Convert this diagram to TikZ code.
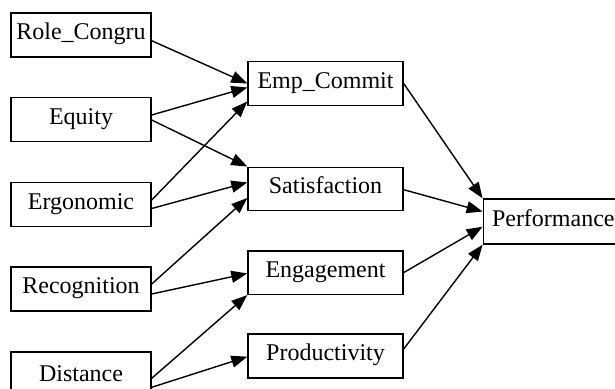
\documentclass[tikz,border=0pt]{standalone}
\usepackage{fontspec}
\setmainfont{Liberation Serif}
\usetikzlibrary{arrows.meta,calc}
\begin{document}
\begin{tikzpicture}[x=1pt,y=-1pt,
  box/.style={draw, line width=1.4pt, minimum height=44pt, inner sep=0pt,
    text height=15pt, text depth=6pt, font=\fontsize{24}{28}\selectfont},
  lbox/.style={box, minimum width=140pt},
  mbox/.style={box, minimum width=155pt},
  arr/.style={line width=1.4pt, -{Triangle[length=16pt,width=12pt]}}]
\useasboundingbox (0,0) rectangle (615,388);
\clip (0,0) rectangle (615,388);
% left column
\node[lbox] (rc) at (81,35) {Role\_Congru};
\node[lbox] (eq) at (81,119.7) {Equity};
\node[lbox] (er) at (81,204.5) {Ergonomic};
\node[lbox] (re) at (81,289) {Recognition};
\node[lbox, minimum height=49pt] (di) at (81,376.5) {Distance};
% middle column
\node[mbox, minimum height=43.5pt] (ec) at (325.5,83.5) {Emp\_Commit};
\node[mbox, minimum height=43pt] (sa) at (325.5,188.7) {Satisfaction};
\node[mbox, minimum height=43.5pt] (en) at (325.5,272.6) {Engagement};
\node[mbox, minimum height=44pt] (pr) at (325.5,356) {Productivity};
% right
\node[box, minimum width=140pt, minimum height=45pt] (pf) at (553.3,221.5) {Performance};
% edges
\draw[arr] ($(rc.east)+(0,5.7)$) -- ($(ec.west)+(0,0)$);
\draw[arr] ($(eq.east)+(0,-4.7)$) -- ($(ec.west)+(0,4)$);
\draw[arr] ($(eq.east)+(0,0.3)$) -- (sa.north west);
\draw[arr] ($(er.east)+(0,-4.5)$) -- ($(ec.west)+(0,18)$);
\draw[arr] ($(er.east)+(0,4)$) -- ($(sa.west)+(0,-6.3)$);
\draw[arr] ($(re.east)+(0,-5)$) -- ($(sa.west)+(0,9.3)$);
\draw[arr] ($(re.east)+(0,5)$) -- ($(en.west)+(0,0.8)$);
\draw[arr] ($(di.east)+(0,1.8)$) -- (en.south west);
\draw[arr] ($(di.east)+(0,10.8)$) -- ($(pr.west)+(0,0.7)$);
\draw[arr] (ec.east) -- (pf.north west);
\draw[arr] ($(sa.east)+(0,1)$) -- ($(pf.west)+(0,-10)$);
\draw[arr] (en.east) -- ($(pf.west)+(0,5.2)$);
\draw[arr] ($(pr.east)+(0,-7)$) -- (pf.south west);
\end{tikzpicture}
\end{document}
